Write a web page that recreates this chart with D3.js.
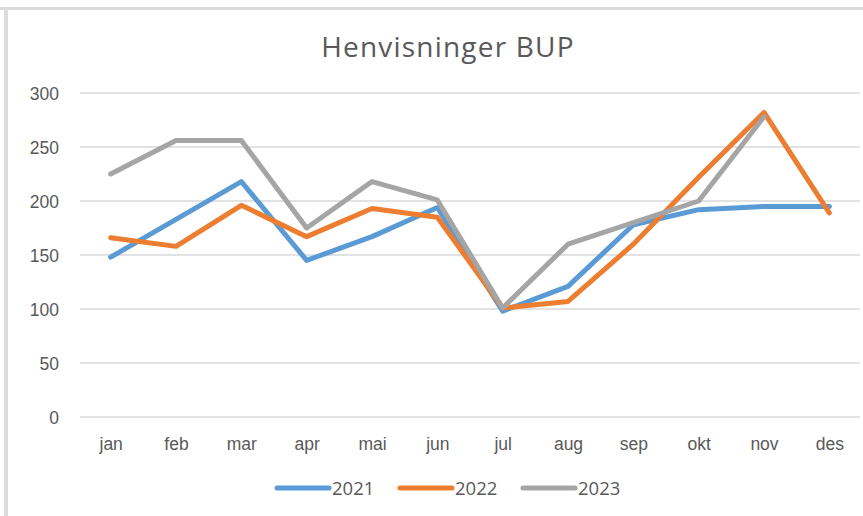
<!DOCTYPE html>
<meta charset="utf-8">
<style>
    body { margin: 0; background: #fff; }
    svg { font-family: "Open Sans", "Liberation Sans", sans-serif; }
    .grid line { stroke: #d9d9d9; stroke-width: 1.5px; }
    .axis text { fill: #595959; font-size: 17.5px; }
</style>
<svg width="863" height="516"></svg>
<script src="https://cdn.jsdelivr.net/npm/d3@7"></script>
<script>

    // months on the x axis
    var months = ["jan", "feb", "mar", "apr", "mai", "jun", "jul", "aug", "sep", "okt", "nov", "des"];
    var yTicks = [0, 50, 100, 150, 200, 250, 300];

    // referrals per month
    var v2021 = [148, 183, 218, 145, 167, 194, 98, 121, 178, 192, 195, 195];
    var v2022 = [166, 158, 196, 167, 193, 185, 101, 107, 160, 222, 282, 189];
    var v2023 = [225, 256, 256, 175, 218, 201, 101, 160, 180, 200, 278];   // no des yet

    var seriesNames = ["2021", "2022", "2023"];
    var seriesColors = ["#5b9bd5", "#ed7d31", "#a5a5a5"];
    var seriesValues = [v2021, v2022, v2023];

    var svg = d3.select("svg");

    // frame of the screenshot: thin grey top and left edges
    svg.append("rect").attr("x", 0).attr("y", 7).attr("width", 863).attr("height", 3).attr("fill", "#dcdcdc");
    svg.append("rect").attr("x", 4).attr("y", 7).attr("width", 4).attr("height", 509).attr("fill", "#dcdcdc");

    var x = d3.scalePoint().domain(months).range([78, 862]).padding(0.5);
    var y = d3.scaleLinear().domain([0, 300]).range([417, 93]);

    // horizontal gridlines
    svg.append("g").attr("class", "grid")
        .selectAll("line")
        .data(yTicks)
        .enter()
        .append("line")
        .attr("x1", 80).attr("x2", 860)
        .attr("y1", function (d) { return y(d); })
        .attr("y2", function (d) { return y(d); });

    // y labels
    var yAxis = svg.append("g").attr("class", "axis")
        .attr("transform", "translate(59,0)")
        .call(d3.axisLeft(y).tickValues(yTicks).tickSize(0).tickPadding(0));
    yAxis.select(".domain").remove();
    yAxis.selectAll("text").attr("dy", "0.35em");

    // x labels
    var xAxis = svg.append("g").attr("class", "axis")
        .attr("transform", "translate(0,434)")
        .call(d3.axisBottom(x).tickSize(0).tickPadding(0));
    xAxis.select(".domain").remove();
    xAxis.selectAll("text").attr("dy", "0.9em");

    // title
    svg.append("text")
        .attr("x", 448).attr("y", 57)
        .attr("text-anchor", "middle")
        .attr("fill", "#595959")
        .style("font-size", "28px")
        .style("letter-spacing", "1.2px")
        .text("Henvisninger BUP");

    // lines
    var line = d3.line()
        .x(function (d, i) { return x(months[i]); })
        .y(function (d) { return y(d); });

    svg.append("g").selectAll("path")
        .data(seriesValues)
        .enter()
        .append("path")
        .attr("fill", "none")
        .attr("stroke", function (d, i) { return seriesColors[i]; })
        .attr("stroke-width", 5)
        .attr("stroke-linejoin", "round")
        .attr("stroke-linecap", "round")
        .attr("d", line);

    // legend
    var legendX = [277, 400, 523];
    var legend = svg.append("g").selectAll("g")
        .data(seriesNames)
        .enter()
        .append("g")
        .attr("transform", function (d, i) { return "translate(" + legendX[i] + ",488)"; });

    legend.append("line")
        .attr("x1", 0).attr("x2", 52)
        .attr("stroke", function (d, i) { return seriesColors[i]; })
        .attr("stroke-width", 5)
        .attr("stroke-linecap", "round");

    legend.append("text")
        .attr("x", 55).attr("y", 7)
        .attr("fill", "#595959")
        .style("font-size", "18.5px")
        .text(function (d) { return d; });

</script>
